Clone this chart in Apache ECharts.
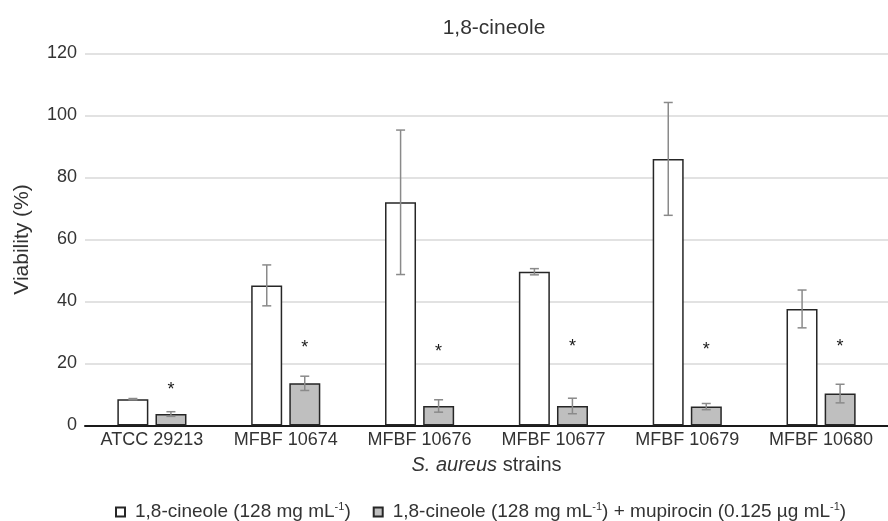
<!DOCTYPE html>
<html>
<head>
<meta charset="utf-8">
<script src="https://cdn.jsdelivr.net/npm/echarts@6/dist/echarts.min.js"></script>
<style>
html,body{margin:0;padding:0;background:#fff;}
#chart{width:888px;height:521px;}
</style>
</head>
<body>
<div id="chart"></div>
<script>
const categories = ['ATCC 29213', 'MFBF 10674', 'MFBF 10676', 'MFBF 10677', 'MFBF 10679', 'MFBF 10680'];
const cineole = [8.5, 45.2, 72.0, 49.6, 86.0, 37.6];
const cineoleSD = [0.2, 6.6, 23.3, 1.0, 18.2, 6.1];
const combo = [3.7, 13.6, 6.3, 6.3, 6.1, 10.3];
const comboSD = [0.75, 2.3, 2.0, 2.5, 1.0, 3.0];
const asteriskY = [13.0, 26.7, 25.4, 26.8, 26.0, 27.0];
const seriesNames = ['1,8-cineole (128 mg mL-1)', '1,8-cineole (128 mg mL-1) + mupirocin (0.125 µg mL-1)'];
const legendLabels = ['1,8-cineole (128 mg mL{sup|-1})', '1,8-cineole (128 mg mL{sup|-1}) + mupirocin (0.125 µg mL{sup|-1})'];
const yTicks = [0, 20, 40, 60, 80, 100, 120];

const FONT = '"Liberation Sans", Arial, sans-serif';
const TXT = '#333333';
const OFF = 19;

function errItem(offset) {
  return function (params, api) {
    const i = api.value(0), v = api.value(1), sd = api.value(2);
    const t = api.coord([i, v + sd]);
    const b = api.coord([i, v - sd]);
    const x = t[0] + offset;
    const st = { stroke: '#8a8a8a', lineWidth: 1.5 };
    return {
      type: 'group',
      children: [
        { type: 'line', shape: { x1: x, y1: t[1], x2: x, y2: b[1] }, style: st },
        { type: 'line', shape: { x1: x - 4.5, y1: t[1], x2: x + 4.5, y2: t[1] }, style: st },
        { type: 'line', shape: { x1: x - 4.5, y1: b[1], x2: x + 4.5, y2: b[1] }, style: st }
      ]
    };
  };
}

const chart = echarts.init(document.getElementById('chart'), null, { renderer: 'canvas' });
chart.setOption({
  animation: false,
  textStyle: { fontFamily: FONT },
  title: {
    text: '1,8-cineole', left: 494, top: 18, textAlign: 'center', padding: 0,
    textStyle: { fontFamily: FONT, fontSize: 21, lineHeight: 21, fontWeight: 'normal', color: TXT }
  },
  legend: {
    left: 115, top: 501, padding: 0, itemWidth: 9, itemHeight: 9, itemGap: 22,
    icon: 'rect',
    formatter: function (name) { return legendLabels[seriesNames.indexOf(name)]; },
    textStyle: {
      fontFamily: FONT, fontSize: 19, color: TXT, lineHeight: 22, padding: [0, 0, 0, 5],
      rich: { sup: { fontFamily: FONT, fontSize: 11, color: TXT, verticalAlign: 'top', lineHeight: 22 } }
    }
  },
  grid: { left: 85, top: 53.5, width: 815, height: 372, containLabel: false },
  xAxis: {
    type: 'category', data: categories,
    axisLine: { lineStyle: { color: '#1a1a1a', width: 2 } },
    axisTick: { show: false },
    axisLabel: { fontFamily: FONT, fontSize: 18, color: TXT, margin: 6, interval: 0 },
    name: '{i|S. aureus} strains', nameLocation: 'middle', nameGap: 30,
    nameTextStyle: {
      fontFamily: FONT, fontSize: 20, color: TXT,
      rich: { i: { fontFamily: FONT, fontSize: 20, fontStyle: 'italic', color: TXT } }
    }
  },
  yAxis: {
    type: 'value', min: yTicks[0], max: yTicks[yTicks.length - 1], interval: 20,
    axisLine: { show: false }, axisTick: { show: false },
    axisLabel: { fontFamily: FONT, fontSize: 18, color: TXT, margin: 8 },
    splitLine: { lineStyle: { color: '#d9d9d9', width: 1.5 } },
    name: 'Viability (%)', nameLocation: 'middle', nameGap: 52,
    nameTextStyle: { fontFamily: FONT, fontSize: 21, color: TXT }
  },
  series: [
    {
      name: seriesNames[0], type: 'bar', data: cineole, barWidth: 31, barGap: '23%',
      itemStyle: { color: '#ffffff', borderColor: '#262626', borderWidth: 1.5 }
    },
    {
      name: seriesNames[1], type: 'bar', data: combo, barWidth: 31, barGap: '23%',
      itemStyle: { color: '#bfbfbf', borderColor: '#262626', borderWidth: 1.5 }
    },
    {
      type: 'custom', renderItem: errItem(-OFF), z: 5, silent: true,
      data: cineole.map((v, i) => [i, v, cineoleSD[i]])
    },
    {
      type: 'custom', renderItem: errItem(OFF), z: 5, silent: true,
      data: combo.map((v, i) => [i, v, comboSD[i]])
    },
    {
      type: 'custom', z: 6, silent: true,
      data: asteriskY.map((v, i) => [i, v]),
      renderItem: function (params, api) {
        const p = api.coord([api.value(0), api.value(1)]);
        return {
          type: 'text',
          style: {
            x: p[0] + OFF, y: p[1] + 5, text: '*', fill: '#1a1a1a',
            font: '18px "Liberation Sans", Arial, sans-serif',
            align: 'center', verticalAlign: 'middle'
          }
        };
      }
    }
  ]
});
</script>
</body>
</html>
